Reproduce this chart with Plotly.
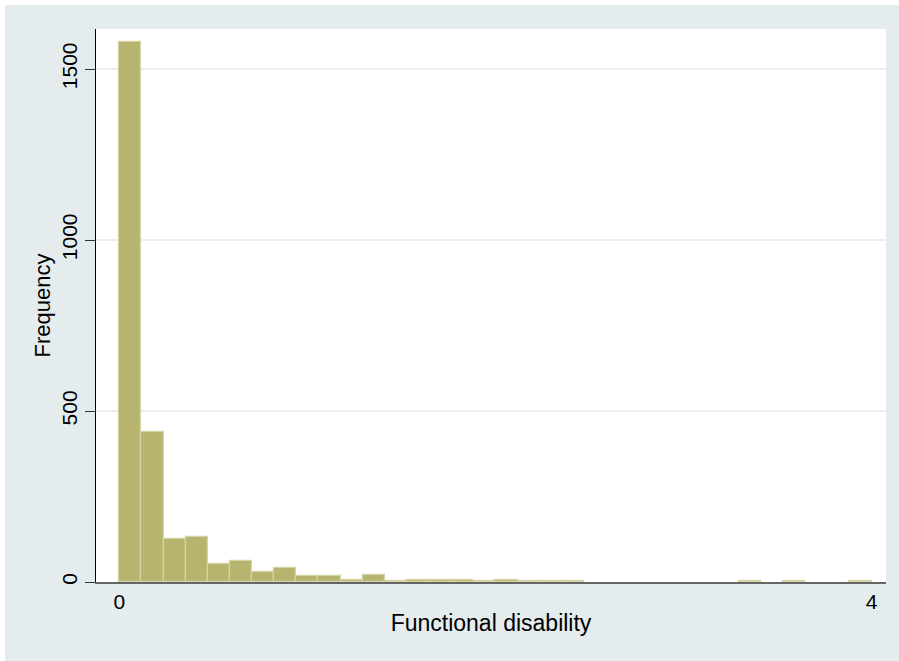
import numpy as np
import plotly.graph_objects as go

# Histogram structure (Stata-style: 34 bins over 0..4)
x_min = 0.0
x_max = 4.0
n_bins = 34
counts = [1578, 440, 125, 132, 53, 62, 28, 42, 17, 17, 7, 20, 4, 7, 5, 6, 3,
          5, 3, 3, 3, 0, 0, 0, 0, 0, 0, 0, 3, 0, 3, 0, 0, 3]
x_tick_vals = [0, 4]
x_tick_text = ["0", "4"]
y_tick_vals = [0, 500, 1000, 1500]
y_tick_text = ["0", "500", "1000", "1500"]
x_title = "Functional disability"
y_title = "Frequency"

edges = np.linspace(x_min, x_max, n_bins + 1)
centers = (edges[:-1] + edges[1:]) / 2
width = edges[1] - edges[0]
plot_counts = [c if c > 0 else None for c in counts]

BG = "#e4ecee"
FONT = "Liberation Sans, Arial, sans-serif"

fig = go.Figure()
fig.add_trace(go.Bar(
    x=centers, y=plot_counts, width=width,
    marker=dict(color="#b6b46f", line=dict(color="#d6d4a4", width=1.2)),
    hoverinfo="x+y",
))

W, H = 899, 661
L, R, T, B = 96, 13, 29, 79
pw, ph = W - L - R, H - T - B

def px_x(p):
    return (p - L) / pw

def px_y(p):
    return (H - B - p) / ph

fig.update_layout(
    width=W, height=H,
    margin=dict(l=L, r=R, t=T, b=B, pad=0),
    paper_bgcolor=BG,
    plot_bgcolor="white",
    bargap=0,
    showlegend=False,
    font=dict(family=FONT, size=21, color="black"),
    shapes=[
        dict(type="rect", xref="paper", yref="paper", x0=px_x(0), x1=px_x(W),
             y0=px_y(5), y1=px_y(0), fillcolor="white", line=dict(width=0), layer="below"),
        dict(type="rect", xref="paper", yref="paper", x0=px_x(0), x1=px_x(5),
             y0=px_y(H), y1=px_y(0), fillcolor="white", line=dict(width=0), layer="below"),
    ],
)

fig.update_xaxes(
    range=[-0.124, 4.077],
    tickvals=x_tick_vals, ticktext=x_tick_text,
    ticks="", showgrid=False, zeroline=False,
    showline=True, linecolor="#666666", linewidth=2,
    ticklabelstandoff=0,
    tickfont=dict(size=21),
    title=dict(text=x_title, font=dict(size=23), standoff=3),
)
fig.update_yaxes(
    range=[0, 1617],
    tickvals=y_tick_vals, ticktext=y_tick_text,
    ticks="outside", ticklen=10, tickcolor="#333333", tickwidth=1,
    tickangle=-90,
    showgrid=True, gridcolor="#e8eff1", gridwidth=2,
    zeroline=False,
    showline=True, linecolor="black", linewidth=1,
    tickfont=dict(size=21),
    title=dict(text=y_title, font=dict(size=22), standoff=0),
)

fig.write_html("out.html")
